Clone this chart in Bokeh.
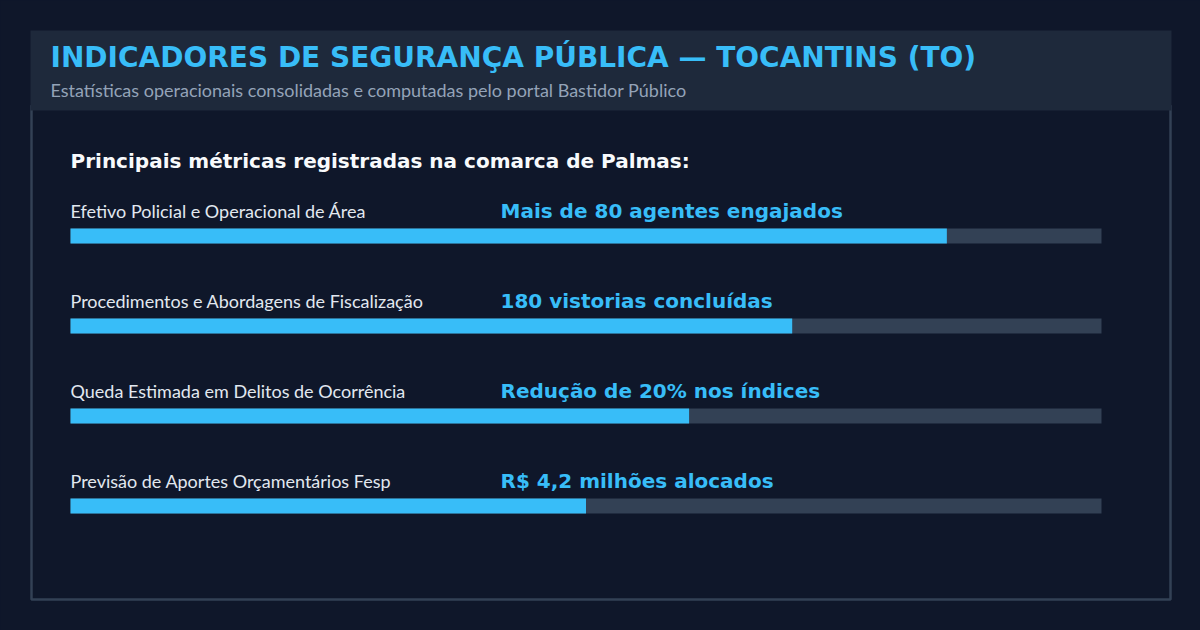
from bokeh.plotting import figure
from bokeh.models import Range1d
from bokeh.core.properties import value
from bokeh.embed import file_html
from bokeh.resources import INLINE

title = "INDICADORES DE SEGURANÇA PÚBLICA — TOCANTINS (TO)"
subtitle = "Estatísticas operacionais consolidadas e computadas pelo portal Bastidor Público"
heading = "Principais métricas registradas na comarca de Palmas:"
labels = [
    "Efetivo Policial e Operacional de Área",
    "Procedimentos e Abordagens de Fiscalização",
    "Queda Estimada em Delitos de Ocorrência",
    "Previsão de Aportes Orçamentários Fesp",
]
value_texts = [
    "Mais de 80 agentes engajados",
    "180 vistorias concluídas",
    "Redução de 20% nos índices",
    "R$ 4,2 milhões alocados",
]
percents = [85, 70, 60, 50]

W, H = 1200, 630
BG = "#0f172a"
ACCENT = "#38bdf8"
TRACK = "#334155"

p = figure(width=W, height=H, x_range=Range1d(0, W), y_range=Range1d(H, 0),
           output_backend="svg", toolbar_location=None, min_border=0)
p.axis.visible = False
p.grid.visible = False
p.outline_line_color = None
p.background_fill_color = BG
p.border_fill_color = BG

# container frame
p.quad(left=[31], right=[1170], top=[105], bottom=[599], fill_color=BG,
       line_color=TRACK, line_width=2.5)
# header band
p.quad(left=[30], right=[1171], top=[30], bottom=[110], fill_color="#1e293b",
       line_color=None)

p.text(x=[50], y=[57], text=[title], text_font=value("DejaVu Sans"),
       text_font_style="bold", text_font_size="28px", text_color=ACCENT,
       text_baseline="alphabetic")
p.text(x=[50], y=[89], text=[subtitle], text_font=value("Lato"),
       text_font_size="18px", text_color="#94a3b8", text_baseline="alphabetic")
p.text(x=[70], y=[160], text=[heading], text_font=value("DejaVu Sans"),
       text_font_style="bold", text_font_size="20px", text_color="#f8fafc",
       text_baseline="alphabetic")

x0, x1 = 70, 1101
row_top0, step, bar_h = 228, 90, 15
tops = [row_top0 + i * step for i in range(len(labels))]
bottoms = [t + bar_h for t in tops]
rights = [x0 + (x1 - x0) * v / 100 for v in percents]

p.quad(left=[x0] * len(tops), right=[x1] * len(tops), top=tops, bottom=bottoms,
       fill_color=TRACK, line_color=None)
p.quad(left=[x0] * len(tops), right=rights, top=tops, bottom=bottoms,
       fill_color=ACCENT, line_color=None)

p.text(x=[x0] * len(tops), y=[t - 18 for t in tops], text=labels,
       text_font=value("Lato"), text_font_size="18px", text_color="#e2e8f0",
       text_baseline="alphabetic")
p.text(x=[500] * len(tops), y=[t - 18 for t in tops], text=value_texts,
       text_font=value("DejaVu Sans"), text_font_style="bold",
       text_font_size="20px", text_color=ACCENT, text_baseline="alphabetic")

html = file_html(p, INLINE)
html = html.replace("<head>", "<head><style>html,body{background:#0f172a;margin:0;padding:0}</style>", 1)
open("out.html", "w").write(html)
